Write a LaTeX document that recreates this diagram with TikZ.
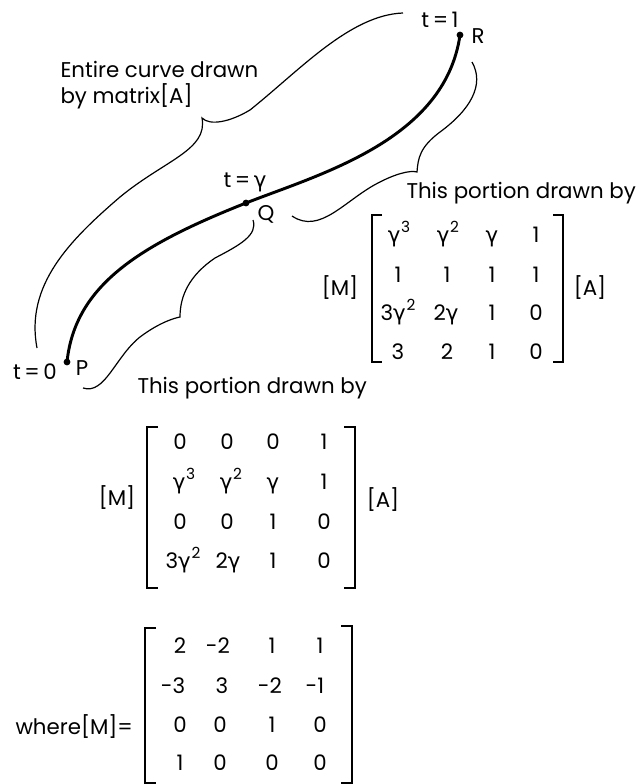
\documentclass[tikz,border=0pt]{standalone}
\usepackage{fontspec}
\setmainfont{Poppins}
\newfontfamily\grkfont{DejaVu Sans}
\newcommand{\gam}{{\grkfont γ}}
\newcommand{\gampow}[1]{\gam\kern0.5pt\raisebox{7.5pt}{\fontsize{11.5}{11.5}\selectfont #1}}

\tikzset{every picture/.style={line width=0.75pt}}
\tikzset{
  lbl/.style={inner sep=0.75pt, font=\fontsize{16}{19.5}\selectfont},
  entry/.style={lbl, anchor=base},
  brace/.style={line width=0.9pt},
  curvepath/.style={line width=2.2pt},
  bracket/.style={line width=1.5pt},
}

\begin{document}
\begin{tikzpicture}[x=0.75pt,y=0.75pt,yscale=-1,xscale=1]
\useasboundingbox (0,0) rectangle (637,784);

%Points on the curve
\coordinate (P) at (67,362);
\coordinate (Q) at (246,203);
\coordinate (R) at (460,35);

%Curve Lines [curve from P through Q to R]
\draw [curvepath] (P) .. controls (75,285) and (140,245) .. (Q) .. controls (320,174) and (445,140) .. (R) ;
\foreach \p in {P,Q,R} \fill (\p) circle [radius=3.4];

%Shape: Brace [entire curve]
\draw [brace] (37,348) .. controls (25,285) and (70,240) .. (120,197) .. controls (165,160) and (208,150) .. (202,118) .. controls (210,126) and (230,122) .. (250,110) .. controls (300,70) and (350,15) .. (403,13) ;
%Shape: Brace [Q to R]
\draw [brace] (472,62) .. controls (485,85) and (470,110) .. (440,132) .. controls (420,147) and (418,158) .. (417,172) .. controls (410,170) and (395,174) .. (378,183) .. controls (345,200) and (320,235) .. (292,216) ;
%Shape: Brace [P to Q]
\draw [brace] (253,220) .. controls (258,235) and (240,245) .. (215,258) .. controls (190,275) and (180,295) .. (180,317) .. controls (175,318) and (160,322) .. (140,337) .. controls (115,357) and (105,395) .. (83,388) ;

% Text Node
\node [lbl, anchor=west, align=left] (entire) at (59,85) {Entire curve drawn\\by matrix[A]};
% Text Node
\node [lbl] (t1) at (440,20) {t\,=\,1};
% Text Node
\node [lbl] (lR) at (478,36) {R};
% Text Node
\node [lbl] (tg) at (245,182) {t\,=\,\gam};
% Text Node
\node [lbl] (lQ) at (266,214) {Q};
% Text Node
\node [lbl] (t0) at (35,372) {t\,=\,0};
% Text Node
\node [lbl] (lP) at (82,368) {P};
% Text Node
\node [lbl, anchor=west] (portQR) at (405,193) {This portion drawn by};
% Text Node
\node [lbl, anchor=west] (portPQ) at (136,388) {This portion drawn by};

%Matrix for the portion Q to R
\node [lbl] (ma-M) at (340,288) {[M]};
\node [lbl] (ma-A) at (590,288) {[A]};
\draw [bracket] (382,215) -- (372,215) -- (372,362) -- (382,362) ;
\draw [bracket] (553,215) -- (563,215) -- (563,362) -- (553,362) ;
\foreach \t/\xx [count=\c] in {{\gampow{3}}/399,{\gampow{2}}/448,\gam/492,1/536}
  \node [entry] (ma-1-\c) at (\xx,243) {\t};
\foreach \t/\xx [count=\c] in {1/398,1/447,1/492,1/536}
  \node [entry] (ma-2-\c) at (\xx,282) {\t};
\foreach \t/\xx [count=\c] in {{3\gampow{2}}/398,{2\gam}/446,1/492,0/536}
  \node [entry] (ma-3-\c) at (\xx,320) {\t};
\foreach \t/\xx [count=\c] in {3/398,2/447,1/492,0/536}
  \node [entry] (ma-4-\c) at (\xx,359) {\t};

%Matrix for the portion P to Q
\node [lbl] (mb-M) at (117,498) {[M]};
\node [lbl] (mb-A) at (383,500) {[A]};
\draw [bracket] (158,427) -- (147,427) -- (147,588) -- (158,588) ;
\draw [bracket] (344,427) -- (355,427) -- (355,588) -- (344,588) ;
\foreach \t/\xx [count=\c] in {0/180,0/227,0/273,1/324}
  \node [entry] (mb-1-\c) at (\xx,449) {\t};
\foreach \t/\xx [count=\c] in {{\gampow{3}}/184,{\gampow{2}}/231,\gam/273,1/324}
  \node [entry] (mb-2-\c) at (\xx,489) {\t};
\foreach \t/\xx [count=\c] in {0/180,0/227,1/273,0/324}
  \node [entry] (mb-3-\c) at (\xx,529) {\t};
\foreach \t/\xx [count=\c] in {{3\gampow{2}}/183,{2\gam}/228,1/273,0/324}
  \node [entry] (mb-4-\c) at (\xx,568) {\t};

%Matrix [M]
\node [lbl, anchor=west] (where) at (14,727) {where[M]=};
\draw [bracket] (156,628) -- (145,628) -- (145,783) -- (156,783) ;
\draw [bracket] (341,626) -- (352,626) -- (352,783) -- (341,783) ;
\foreach \t/\xx [count=\c] in {2/180,-2/218,1/272,1/320}
  \node [entry] (mm-1-\c) at (\xx,653) {\t};
\foreach \t/\xx [count=\c] in {-3/173,3/222,-2/270,-1/315}
  \node [entry] (mm-2-\c) at (\xx,693) {\t};
\foreach \t/\xx [count=\c] in {0/180,0/220,1/272,0/320}
  \node [entry] (mm-3-\c) at (\xx,732) {\t};
\foreach \t/\xx [count=\c] in {1/180,0/220,0/272,0/320}
  \node [entry] (mm-4-\c) at (\xx,770) {\t};

\end{tikzpicture}
\end{document}
